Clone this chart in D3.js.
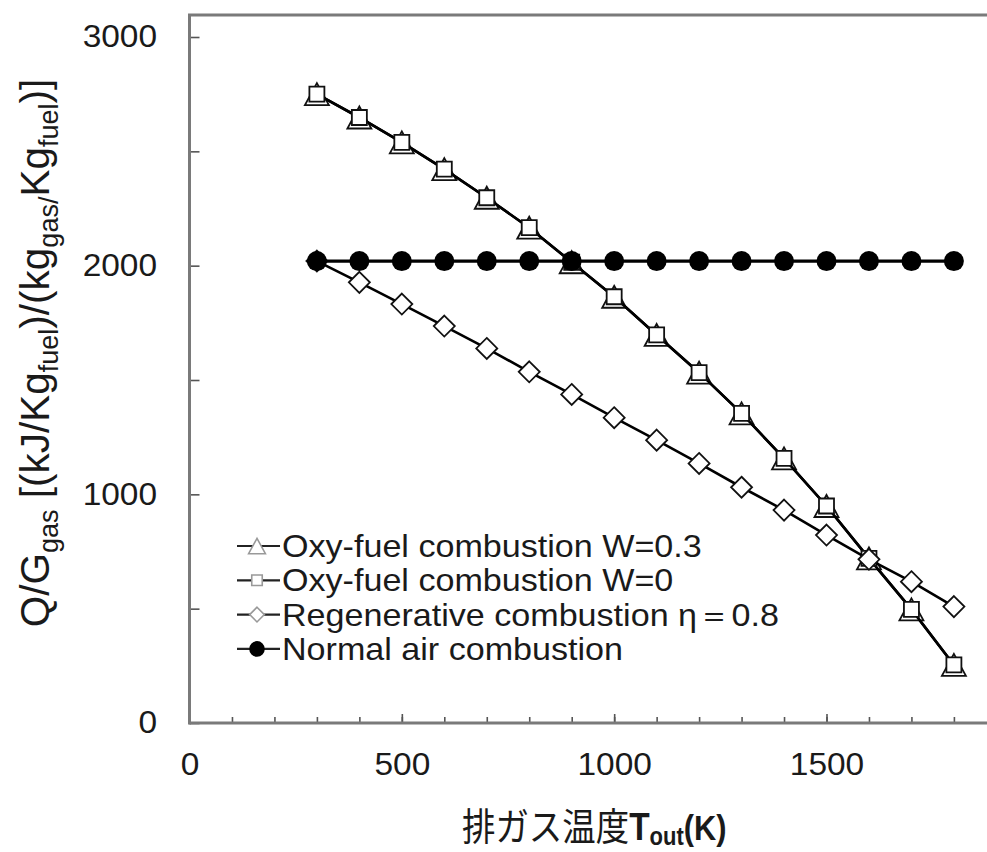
<!DOCTYPE html>
<html>
<head>
<meta charset="utf-8">
<script src="https://cdn.jsdelivr.net/npm/d3@7"></script>
<style>
  body { margin: 0; background: #fff; }
  text { font-family: "Liberation Sans", Arial, sans-serif; fill: #1a1a1a; }
</style>
</head>
<body>
<svg id="chart" width="987" height="852"></svg>
<script>
// Exhaust temperature (K)
const temps = [300, 400, 500, 600, 700, 800, 900, 1000, 1100, 1200, 1300, 1400, 1500, 1600, 1700, 1800];
// Q/G_gas for each combustion mode
const oxyW03 = [2750, 2648, 2539, 2422, 2297, 2166, 2015, 1864, 1697, 1532, 1354, 1157, 949, 720, 497, 254];
const oxyW0 = [2750, 2648, 2539, 2422, 2297, 2166, 2015, 1864, 1697, 1532, 1354, 1157, 949, 720, 497, 254];
const regen = [2020, 1927, 1832, 1736, 1638, 1536, 1437, 1335, 1237, 1135, 1031, 931, 822, 716, 618, 509];
const normalAir = [2020, 2020, 2020, 2020, 2020, 2020, 2020, 2020, 2020, 2020, 2020, 2020, 2020, 2020, 2020, 2020];

const seriesNames = [
  "Oxy-fuel combustion W=0.3",
  "Oxy-fuel combustion W=0",
  "Regenerative combustion η＝0.8",
  "Normal air combustion"
];
const markerKinds = ["triangle", "square", "diamond", "circle"];
const xMajorTicks = [0, 500, 1000, 1500];
const xMinorTicks = d3.range(0, 1901, 100);
const yTicks = [0, 500, 1000, 1500, 2000, 2500, 3000];
const yTickLabels = [0, 1000, 2000, 3000];

const series = [oxyW03, oxyW0, regen, normalAir].map((vals, i) => ({
  name: seriesNames[i],
  kind: markerKinds[i],
  points: temps.map((t, j) => ({ t, v: vals[j] }))
}));

const W = 987, H = 852;
const frameTop = 15;
const svg = d3.select("#chart");

const x = d3.scaleLinear().domain([0, 1500]).range([189.5, 826.5]);
const y = d3.scaleLinear().domain([0, 3000]).range([723, 37]);

const axisColor = "#7a7a7a";

// marker shapes
function markerPath(kind, s) {
  if (kind === "triangle") {
    const w = 24 * s, h = 22 * s;
    return `M0,${-h / 2}L${w / 2},${h / 2}L${-w / 2},${h / 2}Z`;
  }
  if (kind === "square") {
    const a = 15 * s;
    return d3.symbol(d3.symbolSquare, a * a)();
  }
  if (kind === "diamond") {
    const r = 10.5 * s;
    return `M0,${-r}L${r},0L0,${r}L${-r},0Z`;
  }
  return d3.symbol(d3.symbolCircle, Math.PI * (10 * s) * (10 * s))();
}

// x axis ticks (pointing inward)
const gx = svg.append("g").attr("transform", `translate(0,${y(0)})`);
gx.call(d3.axisBottom(x).tickValues(xMinorTicks).tickSizeInner(-6).tickSizeOuter(0).tickFormat(""));
gx.append("g").call(d3.axisBottom(x).tickValues(xMajorTicks).tickSizeInner(-9).tickSizeOuter(0).tickPadding(30)
  .tickFormat(d3.format("d")));
gx.selectAll(".domain").remove();
gx.selectAll("line").attr("stroke", "#555").attr("stroke-width", 1.6);
gx.selectAll("text")
  .attr("font-size", 31).attr("fill", "#1a1a1a")
  .attr("font-family", "Liberation Sans, Arial, sans-serif")
  .attr("transform", "scale(1.08,1)");

// y axis ticks (pointing inward)
const gy = svg.append("g").attr("transform", `translate(${x(0)},0)`);
gy.call(d3.axisLeft(y).tickValues(yTicks).tickSizeInner(-10).tickSizeOuter(0).tickPadding(30)
  .tickFormat(d => yTickLabels.includes(d) ? d : ""));
gy.selectAll(".domain").remove();
gy.selectAll("line").attr("stroke", "#555").attr("stroke-width", 1.6);
gy.selectAll("text")
  .attr("font-size", 31).attr("fill", "#1a1a1a")
  .attr("font-family", "Liberation Sans, Arial, sans-serif")
  .attr("transform", "scale(1.08,1)");

// plot frame: left, bottom, top
const frame = svg.append("g").attr("stroke", axisColor).attr("stroke-width", 3).attr("fill", "none");
frame.append("line").attr("x1", x(0)).attr("x2", x(0)).attr("y1", frameTop).attr("y2", y(0) + 1.5);
frame.append("line").attr("x1", x(0)).attr("x2", W).attr("y1", y(0)).attr("y2", y(0));
frame.append("line").attr("x1", x(0) - 1.5).attr("x2", W).attr("y1", frameTop).attr("y2", frameTop);

// series lines and markers
const line = d3.line().x(d => x(d.t)).y(d => y(d.v));
series.forEach(s => {
  const g = svg.append("g");
  g.append("path").datum(s.points)
    .attr("d", line).attr("fill", "none").attr("stroke", "#000")
    .attr("stroke-width", s.kind === "circle" ? 3.2 : 2.6);
  g.selectAll("path.m").data(s.points).join("path")
    .attr("class", "m")
    .attr("transform", d => `translate(${x(d.t)},${y(d.v)})`)
    .attr("d", markerPath(s.kind, 1))
    .attr("fill", s.kind === "circle" ? "#000" : "#fff")
    .attr("stroke", s.kind === "circle" ? "none" : "#111")
    .attr("stroke-width", 1.8);
});

// legend
const legend = svg.append("g");
const legendX = 237, legendY0 = 546, legendStep = 34.3;
series.forEach((s, i) => {
  const ry = legendY0 + i * legendStep;
  const row = legend.append("g").attr("transform", `translate(${legendX},${ry})`);
  row.append("line").attr("x1", 0).attr("x2", 43).attr("y1", 0).attr("y2", 0)
    .attr("stroke", "#222").attr("stroke-width", 2.2);
  row.append("path")
    .attr("transform", "translate(20,0)")
    .attr("d", markerPath(s.kind, s.kind === "circle" ? 0.78 : 0.7))
    .attr("fill", s.kind === "circle" ? "#000" : "#fff")
    .attr("stroke", s.kind === "circle" ? "none" : "#999")
    .attr("stroke-width", 1.6);
  row.append("text")
    .attr("transform", "translate(45,11) scale(1.1,1)")
    .attr("font-size", 31)
    .text(s.name);
});

// y axis title
const yt = svg.append("text")
  .attr("transform", "translate(49,353) rotate(-90)")
  .attr("text-anchor", "middle")
  .attr("font-size", 40.5);
const yParts = [
  ["Q/G", false], ["gas", true], ["  [(kJ/Kg", false], ["fuel", true],
  [")/(kg", false], ["gas/", true], ["Kg", false], ["fuel", true], [")]", false]
];
yParts.forEach(([txt, sub], i) => {
  const ts = yt.append("tspan").text(txt);
  if (sub) ts.attr("font-size", 27).attr("dy", 9);
  else if (i > 0) ts.attr("dy", -9);
});

// x axis title
const xt = svg.append("text")
  .attr("transform", "translate(462,840) scale(0.88,1)")
  .attr("font-size", 38);
xt.append("tspan").attr("font-family", "Noto Sans CJK JP").text("排ガス温度");
xt.append("tspan").attr("font-weight", "bold").text("T");
xt.append("tspan").attr("font-weight", "bold").attr("font-size", 25).attr("dy", 5).text("out");
xt.append("tspan").attr("font-weight", "bold").attr("font-size", 35).attr("dy", -5).text("(K)");
</script>
</body>
</html>
